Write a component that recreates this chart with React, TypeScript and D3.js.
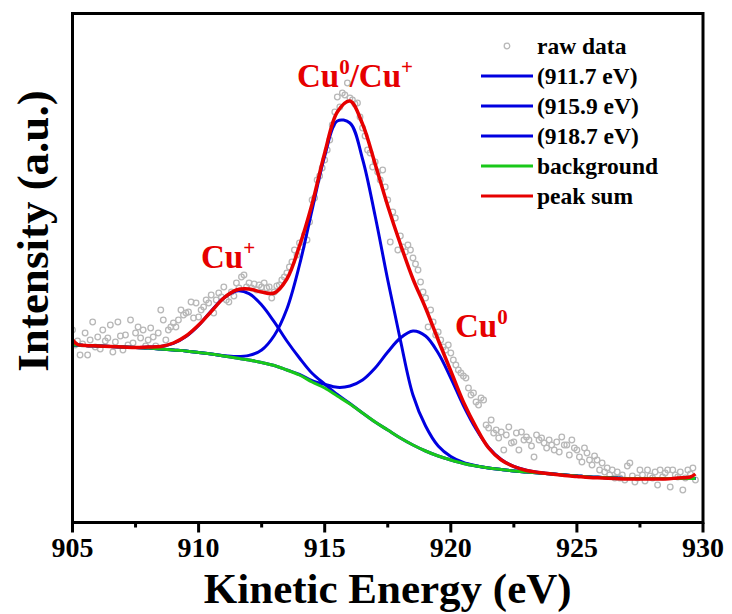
import React from "react";
import * as d3 from "d3";

// Measured spectrum: kinetic energy grid (0.1 eV steps) and intensity (a.u.)
const rawEnergy = d3.range(0, 248).map((i) => +(905 + i * 0.1).toFixed(1));
const rawIntensity = [
  // 905.0 – 905.9
  192, 177, 181, 167, 178, 189, 167, 182, 200, 175,
  // 906
  185, 173, 192, 181, 184, 197, 170, 180, 200, 186,
  // 907
  172, 187, 177, 202, 179, 189, 195, 184, 192, 176,
  // 908
  182, 194, 185, 176, 189, 212, 202, 182, 192, 195,
  // 909
  199, 195, 202, 212, 207, 209, 210, 220, 204, 219,
  // 910
  205, 212, 215, 222, 219, 227, 209, 222, 229, 225,
  // 911
  235, 222, 220, 230, 226, 239, 234, 245, 247, 235,
  // 912
  239, 234, 238, 232, 237, 235, 239, 234, 235, 224,
  // 913
  230, 236, 237, 242, 245, 249, 255, 260, 272, 267,
  // 914
  279, 275, 287, 282, 300, 322, 324, 342, 346, 354,
  // 915
  362, 372, 382, 397, 410, 425, 415, 429, 427, 439,
  // 916
  424, 422, 418, 419, 405, 394, 386, 372, 369, 355,
  // 917
  360, 350, 342, 352, 335, 322, 280, 310, 304, 272,
  // 918
  286, 275, 270, 277, 272, 264, 258, 252, 240, 230,
  // 919
  224, 195, 212, 200, 187, 190, 182, 175, 172, 177,
  // 920
  169, 162, 157, 152, 149, 146, 144, 134, 127, 129,
  // 921
  120, 117, 124, 122, 97, 94, 102, 89, 92, 84,
  // 922
  90, 72, 87, 95, 79, 80, 89, 72, 90, 82,
  // 923
  85, 82, 76, 65, 87, 82, 84, 79, 74, 82,
  // 924
  77, 72, 80, 70, 85, 77, 77, 67, 82, 74,
  // 925
  72, 65, 60, 74, 69, 62, 57, 66, 62, 52,
  // 926
  59, 50, 54, 47, 52, 44, 50, 44, 47, 42,
  // 927
  56, 59, 46, 40, 44, 52, 47, 41, 52, 46,
  // 928
  44, 50, 37, 52, 45, 49, 52, 35, 52, 47,
  // 929.0 – 929.7
  45, 50, 32, 44, 52, 48, 54, 42,
];

// Fitted curves, sampled on a common energy grid
const fitEnergy = [
  905, 905.2, 905.5, 906, 906.5, 907, 907.5, 908, 908.5, 909, 909.5, 910, 910.5,
  911, 911.5, 912, 912.5, 913, 913.5, 914, 914.5, 915, 915.5, 916, 916.5, 917,
  917.5, 918, 918.5, 919, 919.5, 920, 920.5, 921, 921.5, 922, 922.5, 923, 923.5,
  924, 924.5, 925, 925.5, 926, 926.5, 927, 927.5, 928, 928.5, 929, 929.5, 929.7,
];

const background = [
  177, 177, 176.5, 176, 175.5, 175, 174.5, 174, 173, 172, 171, 169.5, 168,
  166, 164, 162, 159.5, 156.5, 152, 147, 140, 134, 126, 118, 109, 100,
  92, 84, 77, 71, 66, 62, 58.5, 56, 54, 52.5, 51, 50, 49,
  48, 47, 46, 45, 44.5, 44, 43.5, 43.5, 43.5, 43.5, 43.5, 43.5, 43.5,
];

const peak911 = [
  177, 177, 176.5, 176, 175.5, 175, 174.5, 175, 175.6, 178.6, 185.4, 196.5, 211,
  224, 231, 228.4, 217, 200.1, 181, 164, 148.7, 137.9, 127.5, 118.5, 109, 100,
  92, 84, 77, 71, 66, 62, 58.5, 56, 54, 52.5, 51, 50, 49,
  48, 47, 46, 45, 44.5, 44, 43.5, 43.5, 43.5, 43.5, 43.5, 43.5, 43.5,
];

const peak915 = [
  177, 177, 176.5, 176, 175.5, 175, 174.5, 174, 173, 172, 171, 169.5, 168,
  166.3, 165.5, 166.6, 172, 186.5, 213, 257, 312, 366, 401, 399, 363, 306,
  242, 182, 127, 96, 76, 65.5, 59.5, 56.3, 54, 52.5, 51, 50, 49,
  48, 47, 46, 45, 44.5, 44, 43.5, 43.5, 43.5, 43.5, 43.5, 43.5, 43.5,
];

const peak918 = [
  177, 177, 176.5, 176, 175.5, 175, 174.5, 174, 173, 172, 171, 169.5, 168,
  166, 164, 162, 159.5, 156.5, 152, 147.5, 141.4, 137.7, 134.7, 136, 142, 154,
  170, 184, 191, 186, 169, 144, 116.5, 93, 74.5, 62.5, 55.5, 51.7, 49.6,
  48.2, 47, 46, 45, 44.5, 44, 43.5, 43.5, 43.5, 43.5, 43.5, 43.5, 43.5,
];

const peakSum = [
  182, 177.5, 176.5, 176, 175.5, 175, 174.5, 175, 175.6, 179, 186, 197, 210.5,
  224, 232, 233, 230, 229, 243, 276, 318, 369, 410, 421, 398, 358,
  316, 278, 243, 214, 182, 151, 120, 95, 74, 62, 55.5, 51.5, 49.5,
  48, 46.5, 45.5, 44.5, 44, 43.5, 43, 43, 43, 43, 44, 45, 48,
];

const xTicks = [905, 910, 915, 920, 925, 930];
const xMinorTicks = [907.5, 912.5, 917.5, 922.5, 927.5];

const RED = "#e60000";
const BLUE = "#0000e0";
const GREEN = "#19c819";
const GREY = "#b8b8b8";

const legendItems = [
  { label: "raw data", kind: "dot", color: GREY },
  { label: "(911.7 eV)", kind: "line", color: BLUE },
  { label: "(915.9 eV)", kind: "line", color: BLUE },
  { label: "(918.7 eV)", kind: "line", color: BLUE },
  { label: "background", kind: "line", color: GREEN },
  { label: "peak sum", kind: "line", color: RED },
];

const FONT = "Liberation Serif, Times New Roman, serif";

export default function App() {
  const width = 732;
  const height = 614;
  const left = 72.5;
  const right = 703;
  const top = 13.5;
  const bottom = 522.5;

  const x = d3.scaleLinear().domain([905, 930]).range([left, right]);
  const y = d3.scaleLinear().domain([0, 509]).range([522, 13]);

  const line = (vals: number[]) =>
    d3
      .line<number>()
      .x((_, i) => x(fitEnergy[i]))
      .y((d) => y(d))
      .curve(d3.curveCatmullRom.alpha(0.5))(vals) as string;

  const legendX = 481;
  const legendRow0 = 46;
  const legendStep = 30;

  return (
    <svg
      width={width}
      height={height}
      style={{
        display: "block",
        position: "absolute",
        left: 0,
        top: 0,
        background: "#fff",
        fontFamily: FONT,
        fontWeight: 700,
      }}
    >
      <rect x={0} y={0} width={width} height={height} fill="#fff" />
      <defs>
        <clipPath id="plot-clip">
          <rect x={left} y={top} width={right - left} height={bottom - top} />
        </clipPath>
      </defs>

      <g clipPath="url(#plot-clip)">
        {rawEnergy.map((e, i) => (
          <circle
            key={i}
            cx={x(e)}
            cy={y(rawIntensity[i])}
            r={2.8}
            fill="none"
            stroke={GREY}
            strokeWidth={1.3}
          />
        ))}
        <path d={line(peak911)} fill="none" stroke={BLUE} strokeWidth={3} />
        <path d={line(peak915)} fill="none" stroke={BLUE} strokeWidth={3} />
        <path d={line(peak918)} fill="none" stroke={BLUE} strokeWidth={3} />
        <path d={line(background)} fill="none" stroke={GREEN} strokeWidth={3} />
        <path d={line(peakSum)} fill="none" stroke={RED} strokeWidth={3.5} />
      </g>

      {/* frame */}
      <rect
        x={left}
        y={top}
        width={right - left}
        height={bottom - top}
        fill="none"
        stroke="#000"
        strokeWidth={3}
      />

      {/* x ticks */}
      {xTicks.map((t) => (
        <g key={t}>
          <line x1={x(t)} x2={x(t)} y1={bottom} y2={bottom + 10} stroke="#000" strokeWidth={3} />
          <text x={x(t)} y={557} textAnchor="middle" fontSize={28} fill="#000">
            {t}
          </text>
        </g>
      ))}
      {xMinorTicks.map((t) => (
        <line key={t} x1={x(t)} x2={x(t)} y1={bottom} y2={bottom + 5} stroke="#000" strokeWidth={3} />
      ))}

      {/* axis titles */}
      <text x={(left + right) / 2} y={603} textAnchor="middle" fontSize={43} fill="#000">
        Kinetic Energy (eV)
      </text>
      <text
        transform={`translate(48, 231) rotate(-90)`}
        textAnchor="middle"
        fontSize={45}
        fill="#000"
      >
        Intensity (a.u.)
      </text>

      {/* legend */}
      {legendItems.map((item, i) => {
        const cy = legendRow0 + i * legendStep;
        return (
          <g key={item.label}>
            {item.kind === "dot" ? (
              <circle cx={507} cy={cy} r={2.8} fill="none" stroke={item.color} strokeWidth={1.3} />
            ) : (
              <line x1={legendX} x2={533} y1={cy} y2={cy} stroke={item.color} strokeWidth={3} />
            )}
            <text x={537} y={cy + 7.5} fontSize={23.5} fill="#000">
              {item.label}
            </text>
          </g>
        );
      })}

      {/* peak annotations */}
      <text x={297} y={87} fontSize={33} fill={RED}>
        Cu
        <tspan fontSize={21} dy={-13}>0</tspan>
        <tspan dy={13}>/Cu</tspan>
        <tspan fontSize={21} dy={-13}>+</tspan>
      </text>
      <text x={201} y={268} fontSize={33} fill={RED}>
        Cu
        <tspan fontSize={21} dy={-13}>+</tspan>
      </text>
      <text x={455} y={337} fontSize={33} fill={RED}>
        Cu
        <tspan fontSize={21} dy={-13}>0</tspan>
      </text>
    </svg>
  );
}
